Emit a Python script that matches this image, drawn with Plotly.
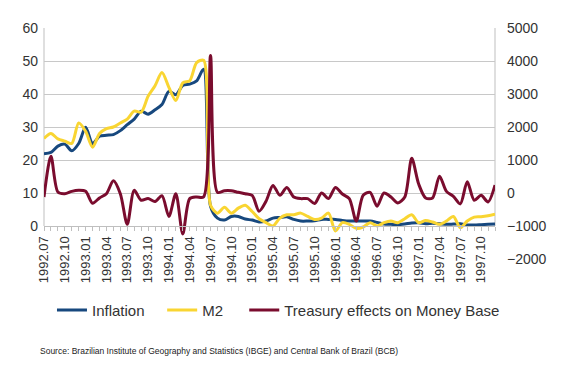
import plotly.graph_objects as go

months = [
    "1992.07", "1992.08", "1992.09", "1992.10", "1992.11", "1992.12",
    "1993.01", "1993.02", "1993.03", "1993.04", "1993.05", "1993.06",
    "1993.07", "1993.08", "1993.09", "1993.10", "1993.11", "1993.12",
    "1994.01", "1994.02", "1994.03", "1994.04", "1994.05", "1994.06",
    "1994.07", "1994.08", "1994.09", "1994.10", "1994.11", "1994.12",
    "1995.01", "1995.02", "1995.03", "1995.04", "1995.05", "1995.06",
    "1995.07", "1995.08", "1995.09", "1995.10", "1995.11", "1995.12",
    "1996.01", "1996.02", "1996.03", "1996.04", "1996.05", "1996.06",
    "1996.07", "1996.08", "1996.09", "1996.10", "1996.11", "1996.12",
    "1997.01", "1997.02", "1997.03", "1997.04", "1997.05", "1997.06",
    "1997.07", "1997.08", "1997.09", "1997.10", "1997.11", "1997.12",
]

inflation = [
    21.9, 22.3, 24.2, 24.8, 22.8, 25.0, 29.9, 25.0, 27.2, 27.5, 27.7, 28.9,
    30.7, 32.4, 34.8, 33.9, 35.2, 36.8, 40.8, 39.8, 42.6, 43.0, 44.0, 47.5,
    6.0, 2.4, 1.8, 2.9, 2.9, 2.1, 1.8, 1.2, 1.5, 2.4, 2.6, 2.8,
    2.0, 1.5, 1.5, 1.6, 2.0, 2.0, 2.0, 1.7, 1.5, 1.5, 1.5, 1.5,
    1.1, 0.6, 0.5, 0.4, 0.6, 0.9, 1.0, 0.7, 0.8, 0.7, 0.5, 0.6,
    0.7, 0.3, 0.3, 0.4, 0.5, 0.6,
]

m2 = [
    26.5, 28.0, 26.4, 25.7, 25.0, 31.2, 28.7, 23.9, 28.0, 29.5, 30.0, 31.2,
    32.4, 34.8, 34.5, 39.3, 42.5, 46.5, 42.0, 38.0, 43.4, 44.0, 49.5, 50.2,
    6.3, 3.9, 5.7, 3.9, 5.4, 6.3, 4.4, 2.2, 1.0, 0.0, 2.4, 3.4,
    3.4, 3.9, 2.9, 2.0, 2.4, 3.9, -1.5, 1.0, 0.5, -0.7, -0.3, 1.0,
    0.0, 1.0, 1.5, 1.0, 2.2, 3.4, 1.0, 1.7, 1.2, 0.5, 1.5, 2.9,
    -0.5, 1.5, 2.7, 2.8, 3.1, 3.6,
]

treasury = [
    -120, 1110, 30, -20, 50, 80, 50, -310, -150, -20, 370, -20,
    -950, 80, -220, -170, -260, -80, -710, -20, -1240, -170, -120, -120,
    4170, 20, 70, 70, 20, -20, -70, -550, -250, 230, -70, 170,
    -120, -170, -170, -320, 0, -170, 170, -30, -170, -850, -70, 20,
    -400, 0, -120, -300, -120, 1050, 270, -150, -150, 510, 50, -100,
    -330, 340, -220, -70, -270, 240,
]

left_ticks = [0, 10, 20, 30, 40, 50, 60]
right_ticks = [-2000, -1000, 0, 1000, 2000, 3000, 4000, 5000]
source_text = ("Source: Brazilian Institute of Geography and Statistics (IBGE) "
               "and Central Bank of Brazil (BCB)")

idx = list(range(len(months)))
tick_idx = idx[::3]
tick_txt = months[::3]

fig = go.Figure()
fig.add_trace(go.Scatter(x=idx, y=inflation, name="Inflation", mode="lines", legend="legend",
                         line=dict(color="#17487E", width=3, shape="spline", smoothing=0.8)))
fig.add_trace(go.Scatter(x=idx, y=m2, name="M2", mode="lines", legend="legend2",
                         line=dict(color="#F9D532", width=3, shape="spline", smoothing=0.8)))
fig.add_trace(go.Scatter(x=idx, y=treasury, name="Treasury effects on Money Base", mode="lines",
                         yaxis="y2", legend="legend3",
                         line=dict(color="#7A0C2E", width=3, shape="spline", smoothing=0.8)))

font_family = "Liberation Sans, Arial, sans-serif"
leg_common = dict(orientation="h", xanchor="left", y=-0.222, yanchor="middle",
                  font=dict(size=15, color="#333333"), bgcolor="rgba(0,0,0,0)")

fig.update_layout(
    width=557, height=364,
    margin=dict(l=36, r=70, t=12, b=113),
    paper_bgcolor="white", plot_bgcolor="white",
    font=dict(family=font_family, color="#333333"),
    showlegend=True,
    legend=dict(x=0.0177, **leg_common),
    legend2=dict(x=0.262, **leg_common),
    legend3=dict(x=0.444, **leg_common),
    xaxis=dict(
        range=[0, len(months) - 1],
        tickmode="array", tickvals=tick_idx, ticktext=tick_txt,
        tickangle=-90, tickfont=dict(size=13, color="#333333"),
        ticks="outside", ticklen=4, tickcolor="#BFBFBF",
        minor=dict(dtick=1, tick0=0, ticks="outside", ticklen=4, tickcolor="#BFBFBF", showgrid=False),
        showline=True, linecolor="#BFBFBF", linewidth=1,
        showgrid=False, zeroline=False,
        anchor="free", position=10 / 70,
    ),
    yaxis=dict(
        range=[-10, 60], tickmode="array", tickvals=left_ticks,
        tickfont=dict(size=14, color="#333333"),
        showgrid=True, gridcolor="#C8C8C8", gridwidth=1,
        zeroline=False, showline=False, ticks="", ticklabelstandoff=5,
    ),
    yaxis2=dict(
        range=[-2000, 5000], tickmode="array", tickvals=right_ticks,
        overlaying="y", side="right",
        tickfont=dict(size=14, color="#333333"),
        showgrid=False, zeroline=False, showline=False, ticks="", ticklabelstandoff=11,
    ),
    shapes=[
        dict(type="line", xref="paper", yref="y", x0=0, x1=0, y0=0, y1=60,
             line=dict(color="#BFBFBF", width=1), layer="below"),
        dict(type="line", xref="paper", yref="y", x0=1, x1=1, y0=0, y1=60,
             line=dict(color="#BFBFBF", width=1), layer="below"),
    ],
    annotations=[
        dict(text=source_text, xref="paper", yref="paper", x=-0.013, y=-0.397,
             xanchor="left", yanchor="middle", showarrow=False,
             font=dict(size=8.5, color="#222222", family=font_family)),
    ],
)

fig.write_html("out.html")
